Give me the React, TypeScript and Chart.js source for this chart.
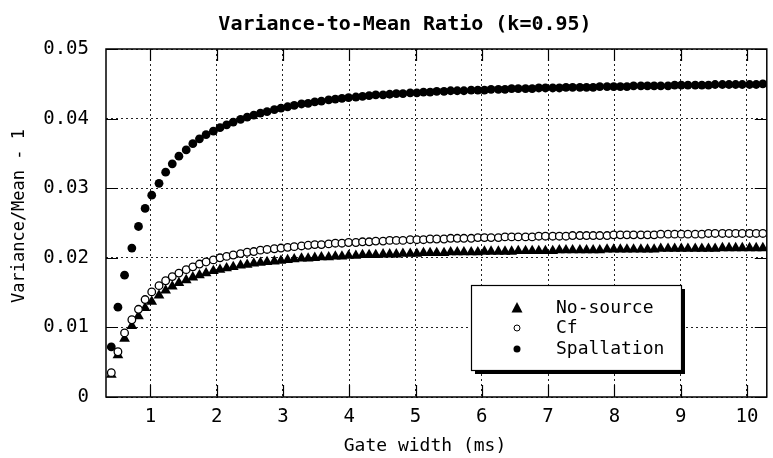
import React, { useEffect, useRef } from 'react';
import { Chart, registerables } from 'chart.js';

Chart.register(...registerables);

const TITLE = 'Variance-to-Mean Ratio (k=0.95)';
const X_TITLE = 'Gate width (ms)';
const Y_TITLE = 'Variance/Mean - 1';
const SERIES_LABELS = ['No-source', 'Cf', 'Spallation'];
const X_TICKS = [1, 2, 3, 4, 5, 6, 7, 8, 9, 10];
const Y_TICKS = [0, 0.01, 0.02, 0.03, 0.04, 0.05];

const GATE_WIDTH = [
  0.41, 0.51, 0.61, 0.72, 0.82, 0.92, 1.02, 1.13, 1.23, 1.33,
  1.43, 1.54, 1.64, 1.74, 1.84, 1.95, 2.05, 2.15, 2.25, 2.36,
  2.46, 2.56, 2.66, 2.76, 2.87, 2.97, 3.07, 3.17, 3.28, 3.38,
  3.48, 3.58, 3.69, 3.79, 3.89, 3.99, 4.10, 4.20, 4.30, 4.40,
  4.51, 4.61, 4.71, 4.81, 4.92, 5.02, 5.12, 5.22, 5.32, 5.43,
  5.53, 5.63, 5.73, 5.84, 5.94, 6.04, 6.14, 6.25, 6.35, 6.45,
  6.55, 6.66, 6.76, 6.86, 6.96, 7.07, 7.17, 7.27, 7.37, 7.48,
  7.58, 7.68, 7.78, 7.89, 7.99, 8.09, 8.19, 8.29, 8.40, 8.50,
  8.60, 8.70, 8.81, 8.91, 9.01, 9.11, 9.22, 9.32, 9.42, 9.52,
  9.63, 9.73, 9.83, 9.93, 10.04, 10.14, 10.24,
];

const NO_SOURCE = [
  0.0032, 0.0060, 0.0084, 0.0102, 0.0116, 0.0128, 0.0137, 0.0146, 0.0153, 0.0159,
  0.0164, 0.0168, 0.0172, 0.0175, 0.0178, 0.0181, 0.0183, 0.0185, 0.0187, 0.0189,
  0.0190, 0.0192, 0.0193, 0.0194, 0.0195, 0.0196, 0.0197, 0.0198, 0.0199, 0.0199,
  0.0200, 0.0201, 0.0201, 0.0202, 0.0202, 0.0203, 0.0203, 0.0204, 0.0204, 0.0204,
  0.0205, 0.0205, 0.0205, 0.0206, 0.0206, 0.0206, 0.0207, 0.0207, 0.0207, 0.0207,
  0.0208, 0.0208, 0.0208, 0.0208, 0.0208, 0.0209, 0.0209, 0.0209, 0.0209, 0.0209,
  0.0210, 0.0210, 0.0210, 0.0210, 0.0210, 0.0210, 0.0211, 0.0211, 0.0211, 0.0211,
  0.0211, 0.0211, 0.0211, 0.0212, 0.0212, 0.0212, 0.0212, 0.0212, 0.0212, 0.0212,
  0.0212, 0.0213, 0.0213, 0.0213, 0.0213, 0.0213, 0.0213, 0.0213, 0.0213, 0.0213,
  0.0214, 0.0214, 0.0214, 0.0214, 0.0214, 0.0214, 0.0214,
];

const CF = [
  0.0035, 0.0065, 0.0092, 0.0111, 0.0126, 0.0140, 0.0151, 0.0160, 0.0167, 0.0173,
  0.0178, 0.0183, 0.0187, 0.0191, 0.0194, 0.0197, 0.0200, 0.0202, 0.0204, 0.0206,
  0.0208, 0.0209, 0.0211, 0.0212, 0.0213, 0.0214, 0.0215, 0.0216, 0.0217, 0.0218,
  0.0219, 0.0219, 0.0220, 0.0221, 0.0221, 0.0222, 0.0222, 0.0223, 0.0223, 0.0224,
  0.0224, 0.0225, 0.0225, 0.0225, 0.0226, 0.0226, 0.0226, 0.0227, 0.0227, 0.0227,
  0.0228, 0.0228, 0.0228, 0.0228, 0.0229, 0.0229, 0.0229, 0.0229, 0.0230, 0.0230,
  0.0230, 0.0230, 0.0230, 0.0231, 0.0231, 0.0231, 0.0231, 0.0231, 0.0232, 0.0232,
  0.0232, 0.0232, 0.0232, 0.0232, 0.0233, 0.0233, 0.0233, 0.0233, 0.0233, 0.0233,
  0.0233, 0.0234, 0.0234, 0.0234, 0.0234, 0.0234, 0.0234, 0.0234, 0.0235, 0.0235,
  0.0235, 0.0235, 0.0235, 0.0235, 0.0235, 0.0235, 0.0235,
];

const SPALLATION = [
  0.0072, 0.0129, 0.0175, 0.0214, 0.0245, 0.0271, 0.0290, 0.0307, 0.0323, 0.0335,
  0.0346, 0.0355, 0.0364, 0.0371, 0.0377, 0.0382, 0.0387, 0.0391, 0.0395, 0.0399,
  0.0402, 0.0405, 0.0408, 0.0410, 0.0413, 0.0415, 0.0417, 0.0419, 0.0421, 0.0422,
  0.0424, 0.0425, 0.0427, 0.0428, 0.0429, 0.0430, 0.0431, 0.0432, 0.0433, 0.0434,
  0.0434, 0.0435, 0.0436, 0.0436, 0.0437, 0.0437, 0.0438, 0.0438, 0.0439, 0.0439,
  0.0440, 0.0440, 0.0440, 0.0441, 0.0441, 0.0441, 0.0442, 0.0442, 0.0442, 0.0443,
  0.0443, 0.0443, 0.0443, 0.0444, 0.0444, 0.0444, 0.0444, 0.0445, 0.0445, 0.0445,
  0.0445, 0.0445, 0.0446, 0.0446, 0.0446, 0.0446, 0.0446, 0.0447, 0.0447, 0.0447,
  0.0447, 0.0447, 0.0447, 0.0448, 0.0448, 0.0448, 0.0448, 0.0448, 0.0448, 0.0449,
  0.0449, 0.0449, 0.0449, 0.0449, 0.0449, 0.0449, 0.0450,
];

const FONT = '"DejaVu Sans Mono", "Liberation Mono", monospace';

const toPoints = (ys: number[]) => GATE_WIDTH.map((x, i) => ({ x, y: ys[i] }));

const decorPlugin = {
  id: 'decor',
  afterDraw(chart: any) {
    const { ctx, chartArea: a, scales } = chart;
    ctx.save();
    // frame
    ctx.strokeStyle = '#000';
    ctx.lineWidth = 1.5;
    ctx.strokeRect(a.left, a.top, a.right - a.left, a.bottom - a.top);
    // inner tick marks
    ctx.lineWidth = 1.2;
    const L = 12;
    ctx.beginPath();
    X_TICKS.forEach((v) => {
      const px = Math.round(scales.x.getPixelForValue(v)) + 0.5;
      ctx.moveTo(px, a.bottom);
      ctx.lineTo(px, a.bottom - L);
      ctx.moveTo(px, a.top);
      ctx.lineTo(px, a.top + L);
    });
    Y_TICKS.forEach((v) => {
      const py = Math.round(scales.y.getPixelForValue(v)) + 0.5;
      ctx.moveTo(a.left, py);
      ctx.lineTo(a.left + L, py);
      ctx.moveTo(a.right, py);
      ctx.lineTo(a.right - L, py);
    });
    ctx.stroke();

    // title
    ctx.fillStyle = '#000';
    ctx.textAlign = 'center';
    ctx.textBaseline = 'middle';
    ctx.font = `bold 20px ${FONT}`;
    ctx.fillText(TITLE, 405, 25);

    // x title
    ctx.font = `18px ${FONT}`;
    ctx.fillText(X_TITLE, 425, 446);

    // y title
    ctx.save();
    ctx.translate(20, 216);
    ctx.rotate(-Math.PI / 2);
    ctx.font = `17px ${FONT}`;
    ctx.fillText(Y_TITLE, 0, 0);
    ctx.restore();

    // legend
    const bx = 471, by = 285, bw = 210, bh = 85;
    ctx.fillStyle = '#000';
    ctx.fillRect(bx + 4, by + 4, bw, bh);
    ctx.fillStyle = '#fff';
    ctx.fillRect(bx, by, bw, bh);
    ctx.strokeStyle = '#000';
    ctx.lineWidth = 1.2;
    ctx.strokeRect(bx + 0.5, by + 0.5, bw, bh);

    const mx = 517, tx = 556;
    const rows = [308, 328, 349];
    ctx.fillStyle = '#000';
    // triangle
    ctx.beginPath();
    ctx.moveTo(mx, rows[0] - 6);
    ctx.lineTo(mx + 5.5, rows[0] + 4.5);
    ctx.lineTo(mx - 5.5, rows[0] + 4.5);
    ctx.closePath();
    ctx.fill();
    // open circle
    ctx.beginPath();
    ctx.arc(mx, rows[1], 3, 0, Math.PI * 2);
    ctx.fillStyle = '#fff';
    ctx.fill();
    ctx.lineWidth = 1;
    ctx.strokeStyle = '#000';
    ctx.stroke();
    // filled circle
    ctx.beginPath();
    ctx.arc(mx, rows[2], 3.5, 0, Math.PI * 2);
    ctx.fillStyle = '#000';
    ctx.fill();

    ctx.font = `18px ${FONT}`;
    ctx.textAlign = 'left';
    ctx.textBaseline = 'middle';
    SERIES_LABELS.forEach((t, i) => ctx.fillText(t, tx, rows[i]));
    ctx.restore();
  },
};

export default function App() {
  const ref = useRef<HTMLCanvasElement>(null);

  useEffect(() => {
    if (!ref.current) return;
    const chart = new Chart(ref.current, {
      type: 'scatter',
      data: {
        datasets: [
          {
            label: SERIES_LABELS[0],
            data: toPoints(NO_SOURCE),
            pointStyle: 'triangle',
            pointRadius: 6.2,
            backgroundColor: '#000',
            borderColor: '#000',
            borderWidth: 0,
            order: 2,
          },
          {
            label: SERIES_LABELS[1],
            data: toPoints(CF),
            pointStyle: 'circle',
            pointRadius: 3.8,
            backgroundColor: '#fff',
            borderColor: '#000',
            borderWidth: 1.3,
            order: 0,
          },
          {
            label: SERIES_LABELS[2],
            data: toPoints(SPALLATION),
            pointStyle: 'circle',
            pointRadius: 4.4,
            backgroundColor: '#000',
            borderColor: '#000',
            borderWidth: 0,
            order: 1,
          },
        ],
      },
      options: {
        responsive: false,
        animation: false,
        layout: { padding: { top: 49, right: 1, left: 0, bottom: 0 } },
        plugins: {
          legend: { display: false },
          title: { display: false },
          tooltip: { enabled: false },
        },
        scales: {
          x: {
            type: 'linear',
            min: 0.33,
            max: 10.3,
            afterBuildTicks: (s: any) => {
              s.ticks = X_TICKS.map((v) => ({ value: v }));
            },
            afterFit: (s: any) => {
              s.height = 61;
            },
            border: { display: false, dash: [2, 3] },
            grid: {
              color: '#222',
              lineWidth: 1,
              drawTicks: false,
            },
            ticks: {
              padding: 9,
              color: '#000',
              font: { family: FONT, size: 19 },
              maxRotation: 0,
              autoSkip: false,
              callback: (v: any) => String(v),
            },
          },
          y: {
            type: 'linear',
            min: 0,
            max: 0.05,
            afterBuildTicks: (s: any) => {
              s.ticks = Y_TICKS.map((v) => ({ value: v }));
            },
            afterFit: (s: any) => {
              s.width = 106;
            },
            border: { display: false, dash: [2, 3] },
            grid: {
              color: '#222',
              lineWidth: 1,
              drawTicks: false,
            },
            ticks: {
              padding: 17,
              color: '#000',
              font: { family: FONT, size: 19 },
              autoSkip: false,
              callback: (v: any) => (Number(v) === 0 ? '0' : Number(v).toFixed(2)),
            },
          },
        },
      },
      plugins: [decorPlugin],
    });
    return () => chart.destroy();
  }, []);

  return (
    <div style={{ position: 'fixed', left: 0, top: 0, width: 773, height: 458, background: '#fff' }}>
      <canvas ref={ref} width={773} height={458} style={{ display: 'block' }} />
    </div>
  );
}
